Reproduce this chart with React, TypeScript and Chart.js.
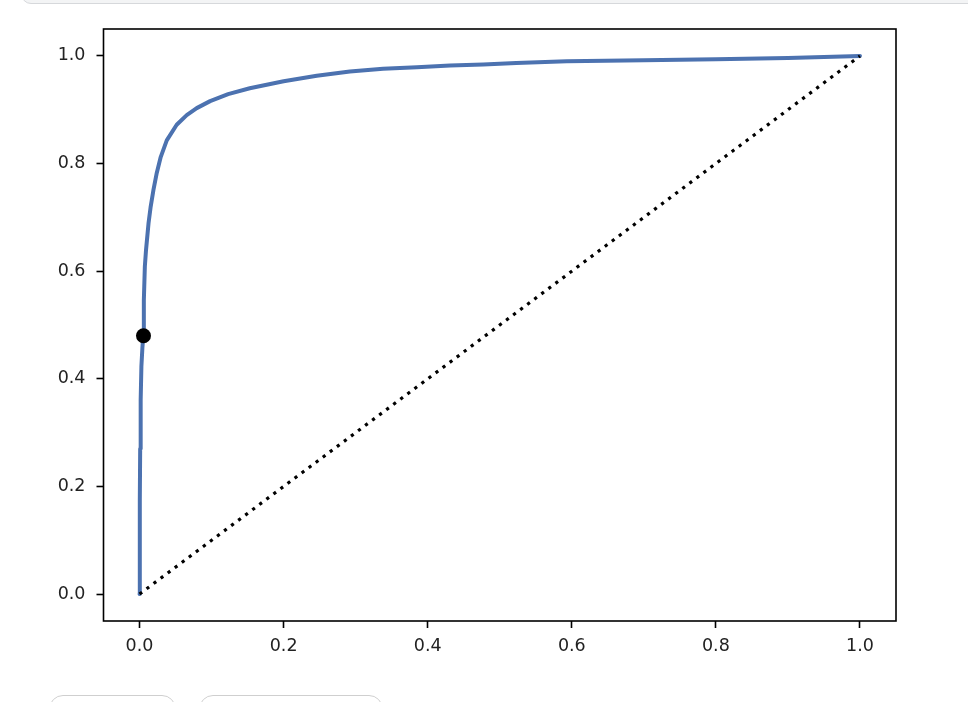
import React, { useEffect, useRef } from "react";
import { Chart, registerables } from "chart.js";

Chart.register(...registerables);

// ROC curve (false positive rate vs true positive rate)
const fpr = [0, 0.0004, 0.0009, 0.0016, 0.0026, 0.0040, 0.0053, 0.006, 0.0074, 0.009, 0.0125, 0.0155, 0.0192, 0.024, 0.0294, 0.0378, 0.0516, 0.0655, 0.0794, 0.098, 0.123, 0.153, 0.2, 0.246, 0.292, 0.338, 0.385, 0.431, 0.477, 0.523, 0.593, 0.7, 0.8, 0.9, 1.0];
const tpr = [0, 0.175, 0.27, 0.36, 0.423, 0.458, 0.481, 0.546, 0.609, 0.639, 0.689, 0.72, 0.75, 0.783, 0.812, 0.843, 0.872, 0.89, 0.903, 0.916, 0.929, 0.94, 0.953, 0.963, 0.971, 0.976, 0.979, 0.982, 0.984, 0.987, 0.99, 0.992, 0.994, 0.996, 1.0];

// Random-classifier diagonal
const diagX = [0, 1];
const diagY = [0, 1];

// Highlighted threshold point
const pointX = [0.0055];
const pointY = [0.48];

const tickValues = [0, 0.2, 0.4, 0.6, 0.8, 1.0];

const FONT = { family: "'DejaVu Sans', sans-serif", size: 17.5 };

const framePlugin = {
  id: "frame",
  afterDatasetsDraw(chart: any) {
    const { ctx, chartArea } = chart;
    ctx.save();
    ctx.strokeStyle = "#000";
    ctx.lineWidth = 1.6;
    ctx.strokeRect(chartArea.left, chartArea.top, chartArea.right - chartArea.left, chartArea.bottom - chartArea.top);
    ctx.restore();
  },
};

export default function App() {
  const ref = useRef<HTMLCanvasElement | null>(null);

  useEffect(() => {
    if (!ref.current) return;
    const axisCommon = (size: (s: any) => void) => ({
      type: "linear" as const,
      min: -0.05,
      max: 1.05,
      afterFit: size,
      afterBuildTicks: (s: any) => {
        s.ticks = tickValues.map((v) => ({ value: v }));
      },
      grid: { display: true, drawOnChartArea: false, drawTicks: true, tickLength: 7, tickWidth: 1.6, tickColor: "#000", color: "#000" },
      border: { display: false },
      ticks: {
        color: "#222",
        font: FONT,
        maxRotation: 0,
        autoSkip: false,
        callback: (v: any) => Number(v).toFixed(1),
      },
    });
    const xAxis: any = axisCommon((s: any) => { s.height = 81; });
    xAxis.ticks.padding = 8;
    const yAxis: any = axisCommon((s: any) => { s.width = 103.5; });
    yAxis.ticks.padding = 11;

    const chart = new Chart(ref.current, {
      type: "scatter",
      data: {
        datasets: [
          {
            data: pointX.map((x, i) => ({ x, y: pointY[i] })),
            backgroundColor: "#000",
            borderColor: "#000",
            pointRadius: 7.5,
            pointBorderWidth: 0,
            showLine: false,
          },
          {
            data: diagX.map((x, i) => ({ x, y: diagY[i] })),
            borderColor: "#000",
            borderWidth: 3.2,
            borderDash: [3.2, 5.6],
            pointRadius: 0,
            showLine: true,
          },
          {
            data: fpr.map((x, i) => ({ x, y: tpr[i] })),
            borderColor: "#4c72b0",
            borderWidth: 4,
            pointRadius: 0,
            showLine: true,
            tension: 0,
            borderJoinStyle: "round",
            borderCapStyle: "round",
          } as any,
        ],
      },
      options: {
        animation: false,
        responsive: false,
        devicePixelRatio: 1,
        layout: { padding: { top: 29, right: 72, left: 0, bottom: 0 } },
        plugins: { legend: { display: false }, tooltip: { enabled: false } },
        scales: { x: xAxis, y: yAxis },
      },
      plugins: [framePlugin],
    });
    return () => chart.destroy();
  }, []);

  return (
    <div style={{ position: "fixed", left: 0, top: 0, width: 968, height: 702, background: "#fff", overflow: "hidden" }}>
      <div
        style={{
          position: "absolute",
          left: 21,
          top: -20,
          width: 1000,
          height: 24,
          background: "#f3f4f5",
          border: "1px solid #d6d8db",
          borderRadius: 10,
          boxSizing: "border-box",
        }}
      />
      <canvas ref={ref} width={968} height={702} style={{ position: "absolute", left: 0, top: 0, width: 968, height: 702 }} />
      <div
        style={{
          position: "absolute",
          left: 49,
          top: 695,
          width: 127,
          height: 30,
          border: "1px solid #cfcfcf",
          borderRadius: 14,
          boxSizing: "border-box",
          background: "#fff",
        }}
      />
      <div
        style={{
          position: "absolute",
          left: 199,
          top: 695,
          width: 184,
          height: 30,
          border: "1px solid #cfcfcf",
          borderRadius: 14,
          boxSizing: "border-box",
          background: "#fff",
        }}
      />
    </div>
  );
}
